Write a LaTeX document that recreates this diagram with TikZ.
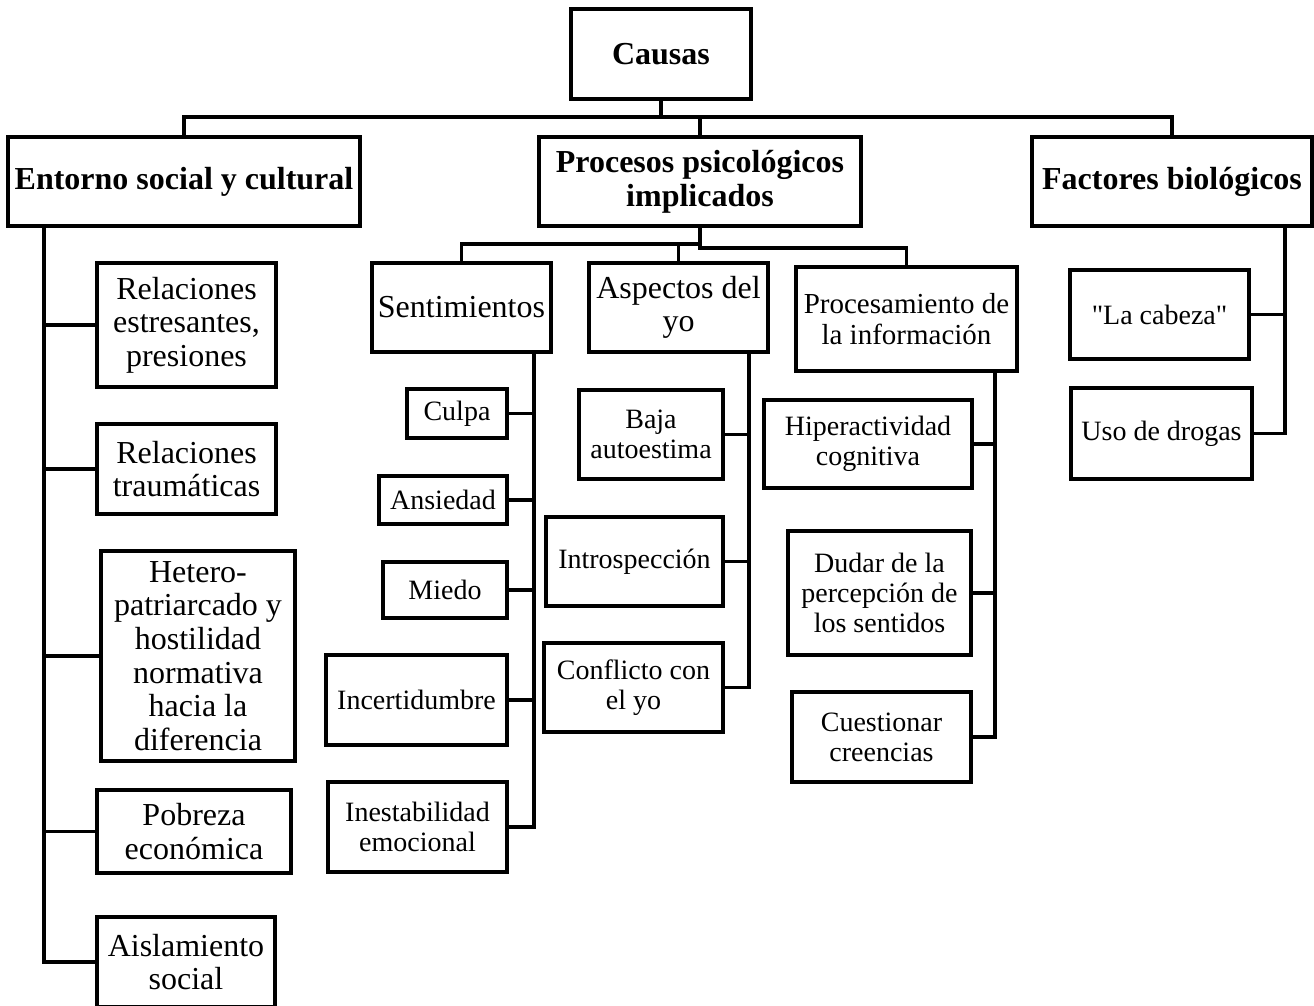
\documentclass[tikz,border=0pt]{standalone}
\usepackage{fontspec}
\setmainfont{Liberation Serif}[Ligatures=TeXOff]
\begin{document}
\begin{tikzpicture}[x=1pt,y=-1pt,line width=3.2pt,
  box/.style={draw,line width=3.2pt,rectangle,inner sep=0pt,align=center},
  sz/.style 2 args={minimum width=#1pt,minimum height=#2pt},
  head/.style={font=\fontsize{32}{34}\selectfont\bfseries},
  big/.style={font=\fontsize{32}{33.6}\selectfont},
  mid/.style={font=\fontsize{29}{31}\selectfont},
  small/.style={font=\fontsize{28}{30}\selectfont}]
\useasboundingbox (0,0) rectangle (1314,1005);
\clip (0,0) rectangle (1314,1005);

% root and main branches
\node[box,head,sz={180}{90}] (causas) at (661,54) {Causas};
\node[box,head,sz={352}{89}] (entorno) at (184,181.5) {Entorno social y cultural};
\node[box,head,sz={322}{89}] (procesos) at (700,181.5) {Procesos psicológicos\\implicados};
\node[box,head,sz={280}{89}] (factores) at (1172,181.5) {Factores biológicos};

\coordinate (bus) at (661,117);
\draw (causas.south) -- (causas.south |- bus);
\draw (entorno.north) |- (factores.north |- bus) -- (factores.north);
\draw (procesos.north) -- (procesos.north |- bus);

% social and cultural environment
\node[box,big,sz={179}{124}] (rel1) at (186.5,325) {Relaciones\\estresantes,\\presiones};
\node[box,big,sz={179}{90}] (rel2) at (186.5,469) {Relaciones\\traumáticas};
\node[box,big,sz={194}{210}] (hetero) at (198,656) {Hetero-\\patriarcado y\\hostilidad\\normativa\\hacia la\\diferencia};
\node[box,big,sz={194}{83}] (pobreza) at (194,831.5) {Pobreza\\económica};
\node[box,big,sz={178}{90}] (ais) at (186,962) {Aislamiento\\social};

\coordinate (etr) at (44,0);
\draw (entorno.south -| etr) |- (ais.west);
\foreach \n in {rel1,rel2,hetero,pobreza} \draw (\n.west) -- (\n.west -| etr);

% psychological processes
\node[box,big,sz={179}{89}] (sent) at (461.5,307.5) {Sentimientos};
\node[box,big,sz={179}{89}] (asp) at (678.5,307.5) {Aspectos del\\yo};
\node[box,mid,sz={221}{104}] (proc) at (906.5,319) {Procesamiento de\\la información};

\coordinate (pbarL) at (700,244);
\coordinate (pbarR) at (700,248);
\draw (procesos.south) -- (pbarR) -| (proc.north);
\draw (sent.north) |- (pbarL);
\draw (asp.north) -- (asp.north |- pbarL);

% feelings
\node[box,small,sz={100}{49}] (culpa) at (457,413.5) {Culpa};
\node[box,small,sz={128}{48}] (ansiedad) at (443,500) {Ansiedad};
\node[box,small,sz={124}{56}] (miedo) at (445,590) {Miedo};
\node[box,small,sz={181}{90}] (incert) at (416.5,700) {Incertidumbre};
\node[box,small,sz={179}{90}] (inest) at (417.5,827) {Inestabilidad\\emocional};

\coordinate (str) at (534,0);
\draw (sent.south -| str) |- (inest.east);
\foreach \n in {culpa,ansiedad,miedo,incert} \draw (\n.east) -- (\n.east -| str);

% aspects of the self
\node[box,small,sz={144}{89}] (baja) at (651,434.5) {Baja\\autoestima};
\node[box,small,sz={177}{89}] (intro) at (634.5,561.5) {Introspección};
\node[box,small,sz={179}{89}] (confl) at (633.5,687.5) {Conflicto con\\el yo};

\coordinate (atr) at (749,0);
\draw (asp.south -| atr) |- (confl.east);
\foreach \n in {baja,intro} \draw (\n.east) -- (\n.east -| atr);

% information processing
\node[box,small,sz={208}{88}] (hiper) at (868,444) {Hiperactividad\\cognitiva};
\node[box,small,sz={183}{124}] (dudar) at (879.5,593) {Dudar de la\\percepción de\\los sentidos};
\node[box,small,sz={179}{90}] (cuest) at (881.5,737) {Cuestionar\\creencias};

\coordinate (ptr) at (995,0);
\draw (proc.south -| ptr) |- (cuest.east);
\foreach \n in {hiper,dudar} \draw (\n.east) -- (\n.east -| ptr);

% biological factors
\node[box,small,sz={179}{89}] (cabeza) at (1159.5,314.5) {"La cabeza"};
\node[box,small,sz={181}{91}] (uso) at (1161.5,433.5) {Uso de drogas};

\coordinate (ftr) at (1285,0);
\draw (factores.south -| ftr) |- (uso.east);
\draw (cabeza.east) -- (cabeza.east -| ftr);
\end{tikzpicture}
\end{document}
